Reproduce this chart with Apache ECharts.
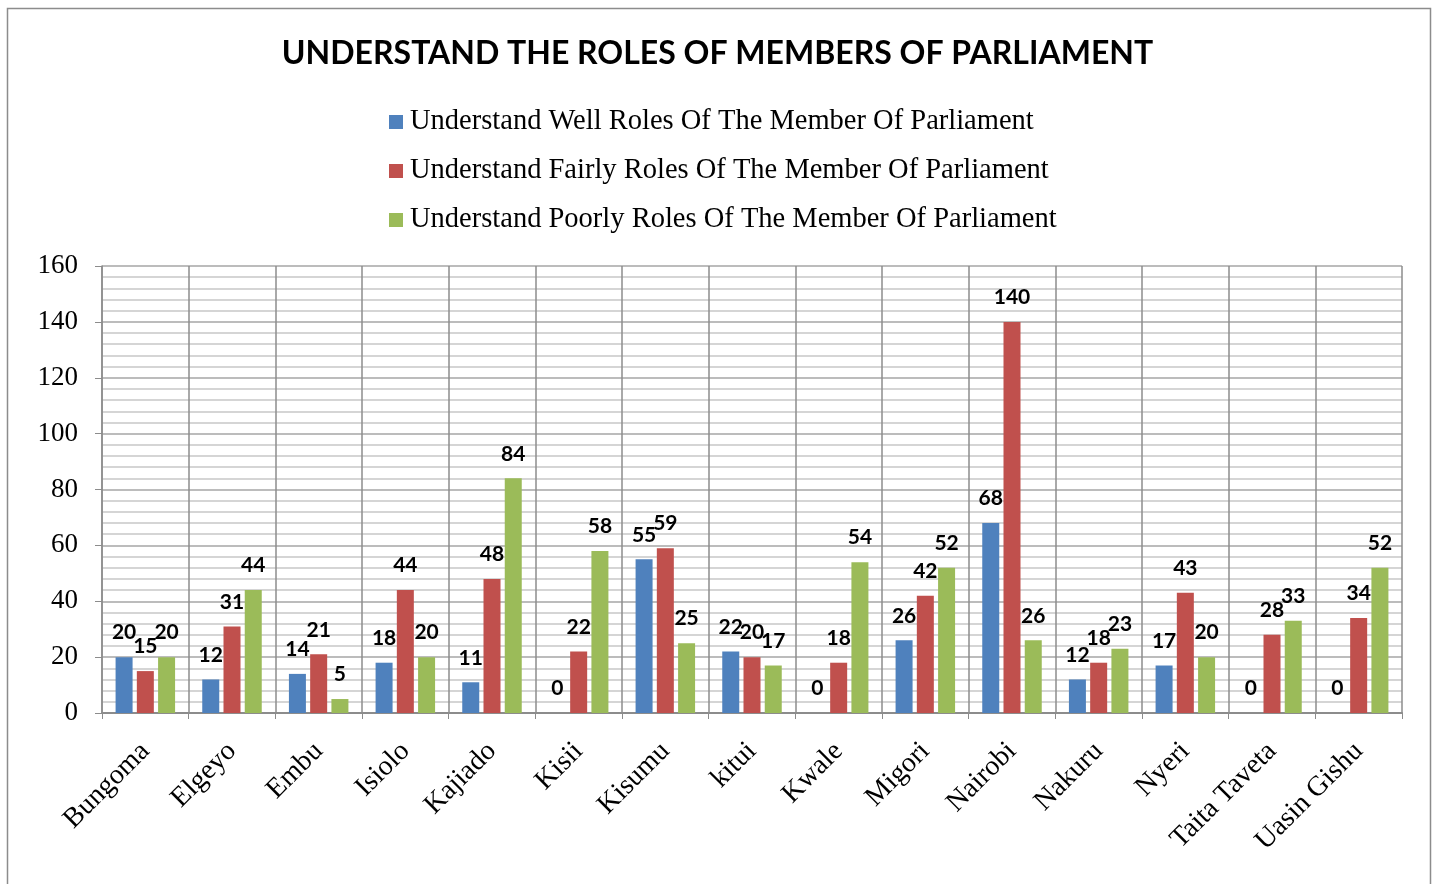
<!DOCTYPE html>
<html>
<head>
<meta charset="utf-8">
<script src="https://cdn.jsdelivr.net/npm/echarts@6/dist/echarts.min.js"></script>
<style>
  html, body { margin: 0; padding: 0; background: #fff; }
  #chart { width: 1435px; height: 884px; }
</style>
</head>
<body>
<div id="chart"></div>
<script>
// Counties surveyed
const counties = ['Bungoma', 'Elgeyo', 'Embu', 'Isiolo', 'Kajiado', 'Kisii', 'Kisumu', 'kitui',
  'Kwale', 'Migori', 'Nairobi', 'Nakuru', 'Nyeri', 'Taita Taveta', 'Uasin Gishu'];

// Respondent counts per county
const understandWell   = [20, 12, 14, 18, 11, 0, 55, 22, 0, 26, 68, 12, 17, 0, 0];
const understandFairly = [15, 31, 21, 44, 48, 22, 59, 20, 18, 42, 140, 18, 43, 28, 34];
const understandPoorly = [20, 44, 5, 20, 84, 58, 25, 17, 54, 52, 26, 23, 20, 33, 52];

const seriesNames = [
  'Understand Well Roles Of The Member Of Parliament',
  'Understand Fairly Roles Of The Member Of Parliament',
  'Understand Poorly Roles Of The Member Of Parliament'
];
const seriesColors = ['#4F81BD', '#C0504D', '#9BBB59'];
const seriesData = [understandWell, understandFairly, understandPoorly];

const serif = '"Liberation Serif", "DejaVu Serif", serif';
const sans = 'Lato, "Open Sans", sans-serif';

const chart = echarts.init(document.getElementById('chart'));

chart.setOption({
  backgroundColor: '#ffffff',
  animation: false,
  graphic: [{
    type: 'rect',
    shape: { x: 7.5, y: 8.5, width: 1423, height: 900 },
    style: { fill: 'none', stroke: '#8c8c8c', lineWidth: 1.5 }
  }],
  title: {
    text: 'UNDERSTAND THE ROLES OF MEMBERS OF PARLIAMENT',
    left: 'center',
    top: 33,
    textStyle: { fontFamily: sans, fontWeight: 'bold', fontSize: 32, color: '#000' }
  },
  legend: {
    orient: 'vertical',
    left: 384,
    top: 101,
    itemWidth: 14,
    itemHeight: 14,
    itemGap: 17,
    itemStyle: { borderWidth: 0 },
    icon: 'rect',
    textStyle: { fontFamily: serif, fontSize: 28.5, color: '#000', lineHeight: 32, padding: [0, 0, 0, 2] },
    data: seriesNames
  },
  grid: { left: 102, right: 33, top: 266, bottom: 171, containLabel: false },
  xAxis: {
    type: 'category',
    data: counties,
    boundaryGap: true,
    axisLine: { show: true, lineStyle: { color: '#8c8c8c', width: 2 } },
    axisTick: { show: true, length: 6, lineStyle: { color: '#8c8c8c' } },
    splitLine: { show: true, lineStyle: { color: '#8c8c8c', width: 1.5 } },
    axisLabel: {
      rotate: 45,
      interval: 0,
      margin: 34,
      fontFamily: serif,
      fontSize: 28,
      color: '#000'
    }
  },
  yAxis: {
    type: 'value',
    min: 0,
    max: 160,
    interval: 20,
    axisLine: { show: true, lineStyle: { color: '#8c8c8c', width: 1.5 } },
    axisTick: { show: true, length: 7, lineStyle: { color: '#8c8c8c' } },
    axisLabel: { fontFamily: serif, fontSize: 27, color: '#000', margin: 24 },
    splitLine: { show: true, lineStyle: { color: '#a6a6a6', width: 1.5 } },
    minorTick: { show: false, splitNumber: 5 },
    minorSplitLine: { show: true, lineStyle: { color: '#c8c8c8', width: 1.5 } }
  },
  series: seriesData.map((data, i) => ({
    name: seriesNames[i],
    type: 'bar',
    data: data,
    barWidth: 17,
    barGap: '25%',
    itemStyle: { color: seriesColors[i] },
    label: {
      show: true,
      position: 'top',
      distance: 14,
      fontFamily: sans,
      fontWeight: 'bold',
      fontSize: 21,
      color: '#000'
    }
  }))
});
</script>
</body>
</html>
